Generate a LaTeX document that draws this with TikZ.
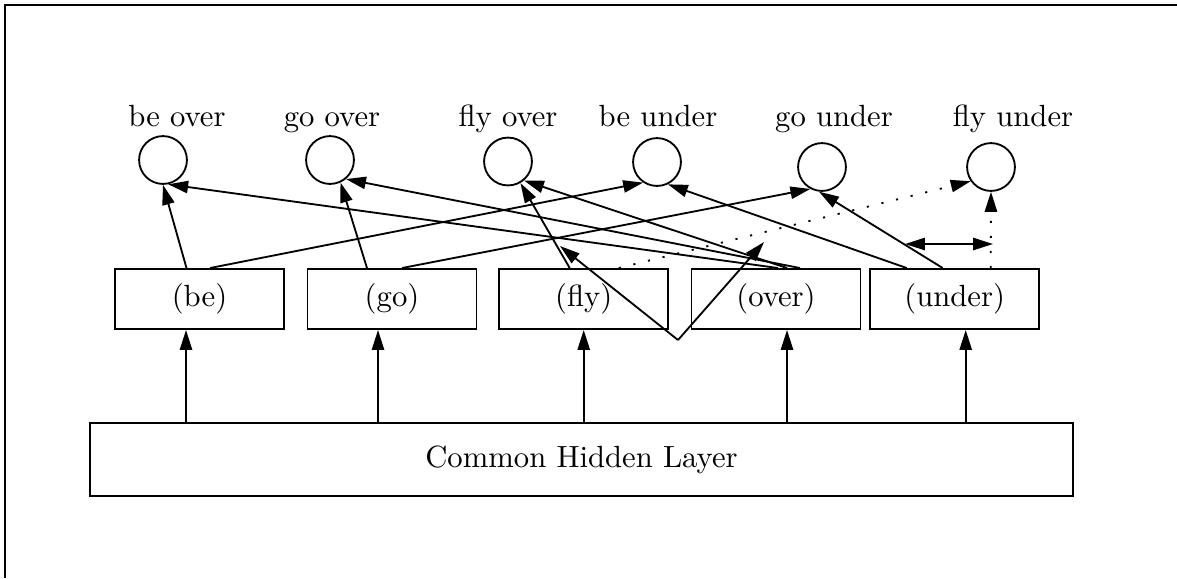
\documentclass[tikz,border=0pt]{standalone}
\usepackage{amsmath}
\usetikzlibrary{arrows.meta,calc}
\tikzset{>={Triangle[length=6.5pt,width=4pt]}}
\tikzset{
	unit/.style={draw, circle, minimum size=15.6pt, inner sep=0pt},
	wbox/.style={draw, minimum width=55.1pt, minimum height=19.6pt, inner sep=0pt},
	lbl/.style={anchor=base, inner sep=0pt},
	dots/.style={dash pattern=on 0.7pt off 4.2pt}
}

\begin{document}
\begin{tikzpicture}[x=0.326pt, y=-0.326pt, line width=0.6pt]
	\useasboundingbox (0,0) rectangle (1177,578);
	\draw[line width=0.8pt] (5,578) -- (5,5) -- (1177,5);

	% output units
	\node[unit] (bo) at (163,160) {};
	\node[unit] (go) at (330,160) {};
	\node[unit] (fo) at (508,161.5) {};
	\node[unit] (bu) at (657,162) {};
	\node[unit] (gu) at (822,167) {};
	\node[unit] (fu) at (991,167) {};

	\node[lbl] (lbo) at (177,126) {be over};
	\node[lbl] (lgo) at (332,126) {go over};
	\node[lbl] (lfo) at (508,126) {fly over};
	\node[lbl] (lbu) at (658,126) {be under};
	\node[lbl] (lgu) at (834,126) {go under};
	\node[lbl] (lfu) at (1013,126) {fly under};

	% word units
	\node[wbox] (be) at (199.5,299) {(be)};
	\node[wbox] (gob) at (392,299) {(go)};
	\node[wbox] (fly) at (583.7,299) {(fly)};
	\node[wbox] (over) at (776,299) {(over)};
	\node[wbox] (under) at (954.7,299) {(under)};

	\node[draw, minimum width=320.5pt, minimum height=23.8pt] (hid) at (581.5,459.5) {Common Hidden Layer};

	\foreach \b/\dx in {be/-13.5,gob/-14,fly/0,over/11,under/11}{
		\coordinate (t\b) at ($(\b.south)+(\dx,0)$);
		\draw[->] (hid.north -| t\b) -- (t\b);
	}

	\draw[->] ($(be.north)+(-13,0)$) -- (bo.-90);
	\draw[->] ($(be.north)+(10.5,0)$) -- (bu.-124);
	\draw[->] ($(gob.north)+(-25,0)$) -- (go.-65);
	\draw[->] ($(gob.north)+(10,0)$) -- (gu.-118);
	\draw[->] ($(fly.north)+(-14,0)$) -- (fo.-60);
	\draw[->,dots] ($(fly.north)+(35,0)$) -- (fu.-145);
	\draw[->] ($(over.north)+(2,0)$) -- (bo.-78);
	\draw[->] ($(over.north)+(11,0)$) -- (fo.-50);
	\draw[->] ($(over.north)+(24,0)$) -- (go.-50);
	\draw[->] ($(under.north)+(-48,0)$) -- (bu.-64);
	\draw[->] ($(under.north)+(-12,0)$) -- (gu.-97);
	\draw[->,dots] ($(under.north)+(36,0)$) -- (fu.-90);

	\coordinate (vb) at (678,340);
	\coordinate (vl) at (560,246);
	\coordinate (vr) at (764,242);
	\draw[->] (vb) -- (vl);
	\draw[->] (vb) -- (vr);

	\coordinate (da) at (905,244);
	\coordinate (db) at (993,244);
	\draw[<->] (da) -- (db);

\end{tikzpicture}
\end{document}
